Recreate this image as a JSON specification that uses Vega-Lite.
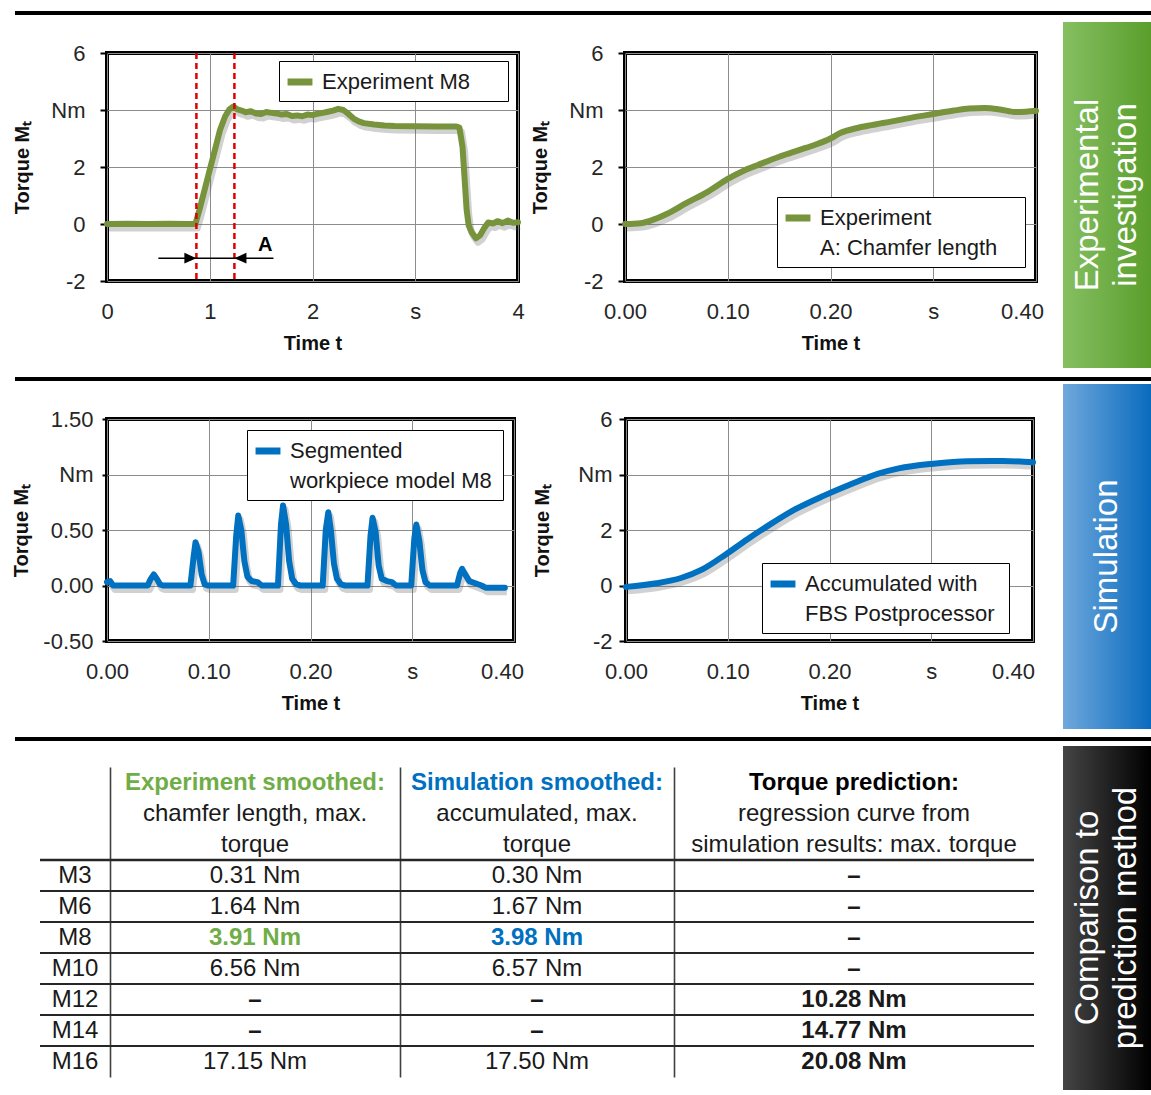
{
  "$schema": "https://vega.github.io/schema/vega-lite/v6.json",
  "background": "white",
  "padding": {"left": 9, "top": 11, "right": 0, "bottom": 5},
  "config": {
    "font": "Liberation Sans",
    "view": {"stroke": null},
    "axis": {"labelFont": "Liberation Sans", "labelFontSize": 22, "labelColor": "#262626", "titleFont": "Liberation Sans", "titleFontSize": 20, "titleFontWeight": "bold", "titleColor": "#111111", "gridColor": "#8c8c8c", "gridWidth": 1, "domain": false, "labelOverlap": false},
    "legend": {"labelFont": "Liberation Sans", "labelFontSize": 22, "labelColor": "#1a1a1a", "labelLimit": 400, "symbolType": "stroke", "symbolStrokeWidth": 7, "symbolSize": 620, "strokeColor": "#000000", "fillColor": "#ffffff", "padding": 5, "rowPadding": 0, "labelOffset": 6, "symbolOpacity": 1, "titleOrient": "right", "titleColor": "transparent", "titleFontSize": 2},
    "text": {"font": "Liberation Sans"}
  },
  "datasets": {
    "exp": [
      {"t": 0, "torque": 0, "series": "Experiment M8"}, {"t": 0.2, "torque": 0.01, "series": "Experiment M8"}, {"t": 0.4, "torque": 0, "series": "Experiment M8"}, {"t": 0.6, "torque": 0.01, "series": "Experiment M8"}, {"t": 0.8, "torque": 0, "series": "Experiment M8"}, {"t": 0.86, "torque": 0, "series": "Experiment M8"}, {"t": 0.9, "torque": 0.5, "series": "Experiment M8"}, {"t": 0.95, "torque": 1.2, "series": "Experiment M8"}, {"t": 1.0, "torque": 1.9, "series": "Experiment M8"}, {"t": 1.05, "torque": 2.6, "series": "Experiment M8"}, {"t": 1.1, "torque": 3.3, "series": "Experiment M8"}, {"t": 1.15, "torque": 3.78, "series": "Experiment M8"}, {"t": 1.19, "torque": 4.02, "series": "Experiment M8"}, {"t": 1.23, "torque": 4.12, "series": "Experiment M8"}, {"t": 1.27, "torque": 4.02, "series": "Experiment M8"}, {"t": 1.31, "torque": 3.98, "series": "Experiment M8"}, {"t": 1.35, "torque": 3.92, "series": "Experiment M8"}, {"t": 1.4, "torque": 3.96, "series": "Experiment M8"}, {"t": 1.45, "torque": 3.88, "series": "Experiment M8"}, {"t": 1.5, "torque": 3.86, "series": "Experiment M8"}, {"t": 1.55, "torque": 3.93, "series": "Experiment M8"}, {"t": 1.6, "torque": 3.9, "series": "Experiment M8"}, {"t": 1.65, "torque": 3.88, "series": "Experiment M8"}, {"t": 1.7, "torque": 3.84, "series": "Experiment M8"}, {"t": 1.75, "torque": 3.86, "series": "Experiment M8"}, {"t": 1.8, "torque": 3.79, "series": "Experiment M8"}, {"t": 1.85, "torque": 3.81, "series": "Experiment M8"}, {"t": 1.9, "torque": 3.78, "series": "Experiment M8"}, {"t": 1.95, "torque": 3.84, "series": "Experiment M8"}, {"t": 2.0, "torque": 3.82, "series": "Experiment M8"}, {"t": 2.05, "torque": 3.87, "series": "Experiment M8"}, {"t": 2.1, "torque": 3.9, "series": "Experiment M8"}, {"t": 2.15, "torque": 3.94, "series": "Experiment M8"}, {"t": 2.2, "torque": 3.98, "series": "Experiment M8"}, {"t": 2.25, "torque": 4.04, "series": "Experiment M8"}, {"t": 2.3, "torque": 4.0, "series": "Experiment M8"}, {"t": 2.35, "torque": 3.86, "series": "Experiment M8"}, {"t": 2.4, "torque": 3.7, "series": "Experiment M8"}, {"t": 2.45, "torque": 3.6, "series": "Experiment M8"}, {"t": 2.5, "torque": 3.54, "series": "Experiment M8"}, {"t": 2.6, "torque": 3.49, "series": "Experiment M8"}, {"t": 2.7, "torque": 3.46, "series": "Experiment M8"}, {"t": 2.8, "torque": 3.44, "series": "Experiment M8"}, {"t": 3.0, "torque": 3.43, "series": "Experiment M8"}, {"t": 3.2, "torque": 3.42, "series": "Experiment M8"}, {"t": 3.4, "torque": 3.42, "series": "Experiment M8"}, {"t": 3.43, "torque": 3.38, "series": "Experiment M8"}, {"t": 3.46, "torque": 2.7, "series": "Experiment M8"}, {"t": 3.48, "torque": 1.6, "series": "Experiment M8"}, {"t": 3.5, "torque": 0.5, "series": "Experiment M8"}, {"t": 3.52, "torque": -0.05, "series": "Experiment M8"}, {"t": 3.55, "torque": -0.3, "series": "Experiment M8"}, {"t": 3.59, "torque": -0.5, "series": "Experiment M8"}, {"t": 3.63, "torque": -0.4, "series": "Experiment M8"}, {"t": 3.67, "torque": -0.15, "series": "Experiment M8"}, {"t": 3.71, "torque": 0.05, "series": "Experiment M8"}, {"t": 3.76, "torque": 0.02, "series": "Experiment M8"}, {"t": 3.8, "torque": 0.1, "series": "Experiment M8"}, {"t": 3.85, "torque": 0.03, "series": "Experiment M8"}, {"t": 3.9, "torque": 0.12, "series": "Experiment M8"}, {"t": 3.95, "torque": 0.04, "series": "Experiment M8"}, {"t": 4.0, "torque": 0.06, "series": "Experiment M8"}
    ],
    "chamfer": [{"t": 0.87, "torque": -1.2, "dir": "right"}, {"t": 1.24, "torque": -1.2, "dir": "left"}],
    "span": [{"t": 0.5, "t2": 1.62, "torque": -1.2}],
    "alabel": [{"t": 1.54, "torque": -0.73, "label": "A"}],
    "expzoom": [
      {"t": 0, "torque": 0, "series": "Experiment"}, {"t": 0.015, "torque": 0.03, "series": "Experiment"}, {"t": 0.025, "torque": 0.12, "series": "Experiment"}, {"t": 0.04, "torque": 0.34, "series": "Experiment"}, {"t": 0.06, "torque": 0.74, "series": "Experiment"}, {"t": 0.08, "torque": 1.12, "series": "Experiment"}, {"t": 0.1, "torque": 1.58, "series": "Experiment"}, {"t": 0.115, "torque": 1.86, "series": "Experiment"}, {"t": 0.13, "torque": 2.08, "series": "Experiment"}, {"t": 0.15, "torque": 2.36, "series": "Experiment"}, {"t": 0.17, "torque": 2.6, "series": "Experiment"}, {"t": 0.185, "torque": 2.78, "series": "Experiment"}, {"t": 0.2, "torque": 3.0, "series": "Experiment"}, {"t": 0.21, "torque": 3.2, "series": "Experiment"}, {"t": 0.225, "torque": 3.36, "series": "Experiment"}, {"t": 0.24, "torque": 3.47, "series": "Experiment"}, {"t": 0.26, "torque": 3.6, "series": "Experiment"}, {"t": 0.28, "torque": 3.74, "series": "Experiment"}, {"t": 0.3, "torque": 3.86, "series": "Experiment"}, {"t": 0.32, "torque": 3.98, "series": "Experiment"}, {"t": 0.335, "torque": 4.05, "series": "Experiment"}, {"t": 0.35, "torque": 4.07, "series": "Experiment"}, {"t": 0.365, "torque": 4.02, "series": "Experiment"}, {"t": 0.38, "torque": 3.93, "series": "Experiment"}, {"t": 0.39, "torque": 3.94, "series": "Experiment"}, {"t": 0.4, "torque": 3.97, "series": "Experiment"}
    ],
    "seg": [
      {"t": 0.0, "torque": 0.03, "series": "Segmented"}, {"t": 0.003, "torque": 0.04, "series": "Segmented"}, {"t": 0.006, "torque": 0.0, "series": "Segmented"}, {"t": 0.04, "torque": 0.0, "series": "Segmented"}, {"t": 0.043, "torque": 0.06, "series": "Segmented"}, {"t": 0.046, "torque": 0.1, "series": "Segmented"}, {"t": 0.049, "torque": 0.06, "series": "Segmented"}, {"t": 0.052, "torque": 0.01, "series": "Segmented"}, {"t": 0.055, "torque": 0.0, "series": "Segmented"},
      {"t": 0.082, "torque": 0.0, "series": "Segmented"}, {"t": 0.085, "torque": 0.25, "series": "Segmented"}, {"t": 0.087, "torque": 0.39, "series": "Segmented"}, {"t": 0.09, "torque": 0.3, "series": "Segmented"}, {"t": 0.093, "torque": 0.1, "series": "Segmented"}, {"t": 0.096, "torque": 0.01, "series": "Segmented"}, {"t": 0.099, "torque": 0.0, "series": "Segmented"},
      {"t": 0.124, "torque": 0.0, "series": "Segmented"}, {"t": 0.127, "torque": 0.45, "series": "Segmented"}, {"t": 0.129, "torque": 0.63, "series": "Segmented"}, {"t": 0.132, "torque": 0.5, "series": "Segmented"}, {"t": 0.135, "torque": 0.22, "series": "Segmented"}, {"t": 0.138, "torque": 0.08, "series": "Segmented"}, {"t": 0.142, "torque": 0.04, "series": "Segmented"}, {"t": 0.148, "torque": 0.03, "series": "Segmented"}, {"t": 0.152, "torque": 0.0, "series": "Segmented"},
      {"t": 0.168, "torque": 0.0, "series": "Segmented"}, {"t": 0.171, "torque": 0.55, "series": "Segmented"}, {"t": 0.173, "torque": 0.72, "series": "Segmented"}, {"t": 0.176, "torque": 0.55, "series": "Segmented"}, {"t": 0.179, "torque": 0.22, "series": "Segmented"}, {"t": 0.182, "torque": 0.06, "series": "Segmented"}, {"t": 0.186, "torque": 0.01, "series": "Segmented"}, {"t": 0.19, "torque": 0.0, "series": "Segmented"},
      {"t": 0.212, "torque": 0.0, "series": "Segmented"}, {"t": 0.215, "torque": 0.5, "series": "Segmented"}, {"t": 0.2175, "torque": 0.66, "series": "Segmented"}, {"t": 0.22, "torque": 0.5, "series": "Segmented"}, {"t": 0.223, "torque": 0.2, "series": "Segmented"}, {"t": 0.226, "torque": 0.06, "series": "Segmented"}, {"t": 0.23, "torque": 0.01, "series": "Segmented"}, {"t": 0.234, "torque": 0.0, "series": "Segmented"},
      {"t": 0.256, "torque": 0.0, "series": "Segmented"}, {"t": 0.259, "torque": 0.45, "series": "Segmented"}, {"t": 0.261, "torque": 0.61, "series": "Segmented"}, {"t": 0.264, "torque": 0.48, "series": "Segmented"}, {"t": 0.267, "torque": 0.18, "series": "Segmented"}, {"t": 0.27, "torque": 0.06, "series": "Segmented"}, {"t": 0.275, "torque": 0.04, "series": "Segmented"}, {"t": 0.28, "torque": 0.03, "series": "Segmented"}, {"t": 0.284, "torque": 0.0, "series": "Segmented"},
      {"t": 0.299, "torque": 0.0, "series": "Segmented"}, {"t": 0.302, "torque": 0.42, "series": "Segmented"}, {"t": 0.304, "torque": 0.55, "series": "Segmented"}, {"t": 0.307, "torque": 0.4, "series": "Segmented"}, {"t": 0.31, "torque": 0.14, "series": "Segmented"}, {"t": 0.313, "torque": 0.03, "series": "Segmented"}, {"t": 0.317, "torque": 0.0, "series": "Segmented"},
      {"t": 0.344, "torque": 0.0, "series": "Segmented"}, {"t": 0.347, "torque": 0.11, "series": "Segmented"}, {"t": 0.349, "torque": 0.15, "series": "Segmented"}, {"t": 0.352, "torque": 0.1, "series": "Segmented"}, {"t": 0.356, "torque": 0.04, "series": "Segmented"}, {"t": 0.362, "torque": 0.02, "series": "Segmented"}, {"t": 0.368, "torque": 0.0, "series": "Segmented"}, {"t": 0.372, "torque": -0.02, "series": "Segmented"}, {"t": 0.391, "torque": -0.02, "series": "Segmented"}
    ],
    "acc": [
      {"t": 0, "torque": -0.05, "series": "Accumulated with"}, {"t": 0.03, "torque": 0.08, "series": "Accumulated with"}, {"t": 0.054, "torque": 0.27, "series": "Accumulated with"}, {"t": 0.075, "torque": 0.58, "series": "Accumulated with"}, {"t": 0.098, "torque": 1.12, "series": "Accumulated with"}, {"t": 0.119, "torque": 1.66, "series": "Accumulated with"}, {"t": 0.139, "torque": 2.14, "series": "Accumulated with"}, {"t": 0.166, "torque": 2.74, "series": "Accumulated with"}, {"t": 0.194, "torque": 3.23, "series": "Accumulated with"}, {"t": 0.221, "torque": 3.65, "series": "Accumulated with"}, {"t": 0.248, "torque": 4.03, "series": "Accumulated with"}, {"t": 0.268, "torque": 4.22, "series": "Accumulated with"}, {"t": 0.302, "torque": 4.39, "series": "Accumulated with"}, {"t": 0.336, "torque": 4.48, "series": "Accumulated with"}, {"t": 0.37, "torque": 4.49, "series": "Accumulated with"}, {"t": 0.4, "torque": 4.44, "series": "Accumulated with"}
    ],
    "table": [
      {"col": "size", "row": "M3", "text": "M3", "kind": "size", "part": "body"},
      {"col": "size", "row": "M6", "text": "M6", "kind": "size", "part": "body"},
      {"col": "size", "row": "M8", "text": "M8", "kind": "size", "part": "body"},
      {"col": "size", "row": "M10", "text": "M10", "kind": "size", "part": "body"},
      {"col": "size", "row": "M12", "text": "M12", "kind": "size", "part": "body"},
      {"col": "size", "row": "M14", "text": "M14", "kind": "size", "part": "body"},
      {"col": "size", "row": "M16", "text": "M16", "kind": "size", "part": "body"},
      {"col": "exp", "row": "h1", "text": "Experiment smoothed:", "kind": "title", "part": "head"},
      {"col": "exp", "row": "h2", "text": "chamfer length, max.", "kind": "note", "part": "head"},
      {"col": "exp", "row": "h3", "text": "torque", "kind": "note", "part": "head"},
      {"col": "exp", "row": "M3", "text": "0.31 Nm", "kind": "value", "part": "body"},
      {"col": "exp", "row": "M6", "text": "1.64 Nm", "kind": "value", "part": "body"},
      {"col": "exp", "row": "M8", "text": "3.91 Nm", "kind": "highlight", "part": "body"},
      {"col": "exp", "row": "M10", "text": "6.56 Nm", "kind": "value", "part": "body"},
      {"col": "exp", "row": "M12", "text": "–", "kind": "none", "part": "body"},
      {"col": "exp", "row": "M14", "text": "–", "kind": "none", "part": "body"},
      {"col": "exp", "row": "M16", "text": "17.15 Nm", "kind": "value", "part": "body"},
      {"col": "sim", "row": "h1", "text": "Simulation smoothed:", "kind": "title", "part": "head"},
      {"col": "sim", "row": "h2", "text": "accumulated, max.", "kind": "note", "part": "head"},
      {"col": "sim", "row": "h3", "text": "torque", "kind": "note", "part": "head"},
      {"col": "sim", "row": "M3", "text": "0.30 Nm", "kind": "value", "part": "body"},
      {"col": "sim", "row": "M6", "text": "1.67 Nm", "kind": "value", "part": "body"},
      {"col": "sim", "row": "M8", "text": "3.98 Nm", "kind": "highlight", "part": "body"},
      {"col": "sim", "row": "M10", "text": "6.57 Nm", "kind": "value", "part": "body"},
      {"col": "sim", "row": "M12", "text": "–", "kind": "none", "part": "body"},
      {"col": "sim", "row": "M14", "text": "–", "kind": "none", "part": "body"},
      {"col": "sim", "row": "M16", "text": "17.50 Nm", "kind": "value", "part": "body"},
      {"col": "pred", "row": "h1", "text": "Torque prediction:", "kind": "title", "part": "head"},
      {"col": "pred", "row": "h2", "text": "regression curve from", "kind": "note", "part": "head"},
      {"col": "pred", "row": "h3", "text": "simulation results: max. torque", "kind": "note", "part": "head"},
      {"col": "pred", "row": "M3", "text": "–", "kind": "none", "part": "body"},
      {"col": "pred", "row": "M6", "text": "–", "kind": "none", "part": "body"},
      {"col": "pred", "row": "M8", "text": "–", "kind": "none", "part": "body"},
      {"col": "pred", "row": "M10", "text": "–", "kind": "none", "part": "body"},
      {"col": "pred", "row": "M12", "text": "10.28 Nm", "kind": "predicted", "part": "body"},
      {"col": "pred", "row": "M14", "text": "14.77 Nm", "kind": "predicted", "part": "body"},
      {"col": "pred", "row": "M16", "text": "20.08 Nm", "kind": "predicted", "part": "body"}
    ]
  },
  "spacing": 0,
  "bounds": "flush",
  "resolve": {"scale": {"color": "independent", "shape": "independent"}, "legend": {"color": "independent", "shape": "independent"}},
  "hconcat": [
    {
      "spacing": 0,
      "bounds": "flush",
      "resolve": {"scale": {"color": "independent", "shape": "independent"}, "legend": {"color": "independent", "shape": "independent"}},
      "vconcat": [
        {"width": 1048, "height": 4, "data": {"values": []}, "mark": "point", "view": {"fill": "#000000", "stroke": null}},
        {"width": 1, "height": 38, "data": {"values": []}, "mark": "point"},
        {
          "spacing": 0,
          "bounds": "flush",
          "resolve": {"scale": {"color": "independent", "shape": "independent"}, "legend": {"color": "independent", "shape": "independent"}},
          "hconcat": [
            {"width": 92, "height": 1, "data": {"values": []}, "mark": "point"},
            {
              "width": 411, "height": 228,
              "view": {"stroke": "#000000", "strokeWidth": 4},
              "layer": [
                {"data": {"name": "exp"}, "mark": {"type": "line", "color": "#595959", "opacity": 0.28, "strokeWidth": 7, "xOffset": 2, "yOffset": 4, "strokeJoin": "round"},
                 "encoding": {
                   "x": {"field": "t", "type": "quantitative", "scale": {"domain": [0, 4], "nice": false, "zero": false}, "axis": {"values": [0, 1, 2, 3, 4], "format": "d", "labelExpr": "datum.value == 3 ? 's' : datum.label", "title": "Time t", "grid": true, "tickSize": 0, "labelPadding": 20, "titlePadding": 11, "labelFlush": false}},
                   "y": {"field": "torque", "type": "quantitative", "scale": {"domain": [-2, 6], "nice": false, "zero": false}, "axis": {"values": [-2, 0, 2, 4, 6], "format": "d", "labelExpr": "datum.value == 4 ? 'Nm' : replace(datum.label, '\u2212', '-')", "title": "Torque M\u209c", "grid": true, "tickSize": 7, "tickColor": "#000000", "tickWidth": 2, "labelPadding": 15, "titlePadding": 18}}
                 }},
                {"data": {"name": "exp"}, "mark": {"type": "line", "strokeWidth": 6, "strokeJoin": "round", "strokeCap": "round"},
                 "encoding": {
                   "x": {"field": "t", "type": "quantitative"},
                   "y": {"field": "torque", "type": "quantitative"},
                   "color": {"field": "series", "type": "nominal", "scale": {"domain": ["Experiment M8"], "range": ["#77933C"]}, "legend": {"orient": "none", "legendX": 172, "legendY": 8, "title": ".", "titlePadding": 32}}
                 }},
                {"data": {"name": "chamfer"}, "mark": {"type": "rule", "color": "#E00000", "strokeDash": [6, 4], "strokeWidth": 2.5}, "encoding": {"x": {"field": "t", "type": "quantitative"}}},
                {"data": {"name": "span"}, "mark": {"type": "rule", "color": "#000000", "strokeWidth": 1.5}, "encoding": {"x": {"field": "t", "type": "quantitative"}, "x2": {"field": "t2"}, "y": {"field": "torque", "type": "quantitative"}}},
                {"data": {"name": "chamfer"}, "mark": {"type": "point", "filled": true, "color": "#000000", "opacity": 1, "size": 144, "strokeWidth": 0},
                 "encoding": {"x": {"field": "t", "type": "quantitative"}, "y": {"field": "torque", "type": "quantitative"}, "shape": {"field": "dir", "type": "nominal", "scale": {"domain": ["right", "left"], "range": ["M -2 -0.9 L 0 0 L -2 0.9 Z", "M 2 -0.9 L 0 0 L 2 0.9 Z"]}, "legend": null}}},
                {"data": {"name": "alabel"}, "mark": {"type": "text", "fontWeight": "bold", "fontSize": 20, "color": "#000000"}, "encoding": {"x": {"field": "t", "type": "quantitative"}, "y": {"field": "torque", "type": "quantitative"}, "text": {"field": "label"}}}
              ]
            },
            {"width": 107, "height": 1, "data": {"values": []}, "mark": "point"},
            {
              "width": 411, "height": 228,
              "view": {"stroke": "#000000", "strokeWidth": 4},
              "data": {"name": "expzoom"},
              "layer": [
                {"mark": {"type": "line", "color": "#595959", "opacity": 0.28, "strokeWidth": 7, "xOffset": 2, "yOffset": 4, "interpolate": "monotone"},
                 "encoding": {
                   "x": {"field": "t", "type": "quantitative", "scale": {"domain": [0, 0.4], "nice": false, "zero": false}, "axis": {"values": [0, 0.1, 0.2, 0.3, 0.4], "format": ".2f", "labelExpr": "abs(datum.value - 0.3) < 0.0001 ? 's' : datum.label", "title": "Time t", "grid": true, "tickSize": 0, "labelPadding": 20, "titlePadding": 11, "labelFlush": false, "labelOffset": {"condition": {"test": "datum.value > 0.39", "value": -14}, "value": 0}}},
                   "y": {"field": "torque", "type": "quantitative", "scale": {"domain": [-2, 6], "nice": false, "zero": false}, "axis": {"values": [-2, 0, 2, 4, 6], "format": "d", "labelExpr": "datum.value == 4 ? 'Nm' : replace(datum.label, '\u2212', '-')", "title": "Torque M\u209c", "grid": true, "tickSize": 7, "tickColor": "#000000", "tickWidth": 2, "labelPadding": 15, "titlePadding": 18}}
                 }},
                {"mark": {"type": "line", "strokeWidth": 6, "strokeJoin": "round", "strokeCap": "round", "interpolate": "monotone"},
                 "encoding": {
                   "x": {"field": "t", "type": "quantitative"},
                   "y": {"field": "torque", "type": "quantitative"},
                   "color": {"field": "series", "type": "nominal", "scale": {"domain": ["Experiment", "A: Chamfer length"], "range": ["#77933C", "transparent"]}, "legend": {"orient": "none", "legendX": 152, "legendY": 144, "title": ".", "titlePadding": 22}}
                 }}
              ]
            }
          ]
        },
        {"width": 1, "height": 324, "data": {"values": []}, "mark": "point"},
        {"width": 1048, "height": 4, "data": {"values": []}, "mark": "point", "view": {"fill": "#000000", "stroke": null}},
        {"width": 1, "height": 38, "data": {"values": []}, "mark": "point"},
        {
          "spacing": 0,
          "bounds": "flush",
          "resolve": {"scale": {"color": "independent", "shape": "independent"}, "legend": {"color": "independent", "shape": "independent"}},
          "hconcat": [
            {"width": 92, "height": 1, "data": {"values": []}, "mark": "point"},
            {
              "width": 407, "height": 222,
              "view": {"stroke": "#000000", "strokeWidth": 4},
              "data": {"name": "seg"},
              "layer": [
                {"mark": {"type": "line", "color": "#595959", "opacity": 0.28, "strokeWidth": 7, "xOffset": 2, "yOffset": 4, "strokeJoin": "round"},
                 "encoding": {
                   "x": {"field": "t", "type": "quantitative", "scale": {"domain": [0, 0.4], "nice": false, "zero": false}, "axis": {"values": [0, 0.1, 0.2, 0.3, 0.4], "format": ".2f", "labelExpr": "abs(datum.value - 0.3) < 0.0001 ? 's' : datum.label", "title": "Time t", "grid": true, "tickSize": 0, "labelPadding": 20, "titlePadding": 11, "labelFlush": false, "labelOffset": {"condition": {"test": "datum.value > 0.39", "value": -12}, "value": 0}}},
                   "y": {"field": "torque", "type": "quantitative", "scale": {"domain": [-0.5, 1.5], "nice": false, "zero": false}, "axis": {"values": [-0.5, 0, 0.5, 1, 1.5], "format": ".2f", "labelExpr": "datum.value == 1 ? 'Nm' : replace(datum.label, '\u2212', '-')", "title": "Torque M\u209c", "grid": true, "tickSize": 5, "tickColor": "#000000", "tickWidth": 2, "labelPadding": 9, "titlePadding": 11}}
                 }},
                {"mark": {"type": "line", "strokeWidth": 6, "strokeJoin": "round", "strokeCap": "round"},
                 "encoding": {
                   "x": {"field": "t", "type": "quantitative"},
                   "y": {"field": "torque", "type": "quantitative"},
                   "color": {"field": "series", "type": "nominal", "scale": {"domain": ["Segmented", "workpiece model M8"], "range": ["#0070C0", "transparent"]}, "legend": {"orient": "none", "legendX": 140, "legendY": 11, "title": ".", "titlePadding": 5}}
                 }}
              ]
            },
            {"width": 112, "height": 1, "data": {"values": []}, "mark": "point"},
            {
              "width": 407, "height": 222,
              "view": {"stroke": "#000000", "strokeWidth": 4},
              "data": {"name": "acc"},
              "layer": [
                {"mark": {"type": "line", "color": "#595959", "opacity": 0.28, "strokeWidth": 7, "xOffset": 2, "yOffset": 4, "interpolate": "monotone"},
                 "encoding": {
                   "x": {"field": "t", "type": "quantitative", "scale": {"domain": [0, 0.4], "nice": false, "zero": false}, "axis": {"values": [0, 0.1, 0.2, 0.3, 0.4], "format": ".2f", "labelExpr": "abs(datum.value - 0.3) < 0.0001 ? 's' : datum.label", "title": "Time t", "grid": true, "tickSize": 0, "labelPadding": 20, "titlePadding": 11, "labelFlush": false, "labelOffset": {"condition": {"test": "datum.value > 0.39", "value": -20}, "value": 0}}},
                   "y": {"field": "torque", "type": "quantitative", "scale": {"domain": [-2, 6], "nice": false, "zero": false}, "axis": {"values": [-2, 0, 2, 4, 6], "format": "d", "labelExpr": "datum.value == 4 ? 'Nm' : replace(datum.label, '\u2212', '-')", "title": "Torque M\u209c", "grid": true, "tickSize": 7, "tickColor": "#000000", "tickWidth": 2, "labelPadding": 7, "titlePadding": 25}}
                 }},
                {"mark": {"type": "line", "strokeWidth": 6, "strokeJoin": "round", "strokeCap": "round", "interpolate": "monotone"},
                 "encoding": {
                   "x": {"field": "t", "type": "quantitative"},
                   "y": {"field": "torque", "type": "quantitative"},
                   "color": {"field": "series", "type": "nominal", "scale": {"domain": ["Accumulated with", "FBS Postprocessor"], "range": ["#0070C0", "transparent"]}, "legend": {"orient": "none", "legendX": 136, "legendY": 144, "title": ".", "titlePadding": 8}}
                 }}
              ]
            }
          ]
        },
        {"width": 1, "height": 318, "data": {"values": []}, "mark": "point"},
        {"width": 1048, "height": 4, "data": {"values": []}, "mark": "point", "view": {"fill": "#000000", "stroke": null}},
        {"width": 1, "height": 26, "data": {"values": []}, "mark": "point"},
        {
          "spacing": 0,
          "bounds": "flush",
          "resolve": {"scale": {"color": "independent", "shape": "independent"}, "legend": {"color": "independent", "shape": "independent"}},
          "hconcat": [
            {"width": 25, "height": 1, "data": {"values": []}, "mark": "point"},
            {
              "width": 70, "height": 310,
              "data": {"name": "table"},
              "transform": [{"filter": "datum.col == 'size'"}],
              "layer": [
                {"transform": [{"filter": "datum.part == 'body'"}], "mark": {"type": "rule", "color": "#262626"},
                 "encoding": {"y": {"field": "row", "type": "ordinal", "bandPosition": 0, "scale": {"type": "band", "domain": ["h1", "h2", "h3", "M3", "M6", "M8", "M10", "M12", "M14", "M16"], "paddingInner": 0, "paddingOuter": 0}, "axis": null}, "strokeWidth": {"condition": {"test": "datum.row == 'M3'", "value": 2.6}, "value": 2}}},
                {"mark": {"type": "text", "fontSize": 24, "color": "#1a1a1a"}, "encoding": {"y": {"field": "row", "type": "ordinal"}, "text": {"field": "text"}}}
              ]
            },
            {
              "width": 290, "height": 310,
              "data": {"name": "table"},
              "transform": [{"filter": "datum.col == 'exp'"}],
              "layer": [
                {"transform": [{"filter": "datum.part == 'body'"}], "mark": {"type": "rule", "color": "#262626"},
                 "encoding": {"y": {"field": "row", "type": "ordinal", "bandPosition": 0, "scale": {"type": "band", "domain": ["h1", "h2", "h3", "M3", "M6", "M8", "M10", "M12", "M14", "M16"], "paddingInner": 0, "paddingOuter": 0}, "axis": {"domain": true, "domainColor": "#404040", "domainWidth": 1.6, "labels": false, "ticks": false, "grid": false, "title": null}}, "strokeWidth": {"condition": {"test": "datum.row == 'M3'", "value": 2.6}, "value": 2}}},
                {"transform": [{"filter": "indexof(['title', 'highlight', 'predicted', 'none'], datum.kind) < 0"}], "mark": {"type": "text", "fontSize": 24, "color": "#1a1a1a"}, "encoding": {"y": {"field": "row", "type": "ordinal"}, "text": {"field": "text"}}},
                {"transform": [{"filter": "indexof(['title', 'highlight', 'predicted', 'none'], datum.kind) >= 0"}], "mark": {"type": "text", "fontSize": 24, "fontWeight": "bold"},
                 "encoding": {"y": {"field": "row", "type": "ordinal"}, "text": {"field": "text"}, "color": {"condition": {"test": "datum.kind == 'title' || datum.kind == 'highlight'", "field": "col", "type": "nominal", "scale": {"domain": ["exp", "sim", "pred"], "range": ["#70AD47", "#0070C0", "#000000"]}, "legend": null}, "value": "#1a1a1a"}}}
              ]
            },
            {
              "width": 274, "height": 310,
              "data": {"name": "table"},
              "transform": [{"filter": "datum.col == 'sim'"}],
              "layer": [
                {"transform": [{"filter": "datum.part == 'body'"}], "mark": {"type": "rule", "color": "#262626"},
                 "encoding": {"y": {"field": "row", "type": "ordinal", "bandPosition": 0, "scale": {"type": "band", "domain": ["h1", "h2", "h3", "M3", "M6", "M8", "M10", "M12", "M14", "M16"], "paddingInner": 0, "paddingOuter": 0}, "axis": {"domain": true, "domainColor": "#404040", "domainWidth": 1.6, "labels": false, "ticks": false, "grid": false, "title": null}}, "strokeWidth": {"condition": {"test": "datum.row == 'M3'", "value": 2.6}, "value": 2}}},
                {"transform": [{"filter": "indexof(['title', 'highlight', 'predicted', 'none'], datum.kind) < 0"}], "mark": {"type": "text", "fontSize": 24, "color": "#1a1a1a"}, "encoding": {"y": {"field": "row", "type": "ordinal"}, "text": {"field": "text"}}},
                {"transform": [{"filter": "indexof(['title', 'highlight', 'predicted', 'none'], datum.kind) >= 0"}], "mark": {"type": "text", "fontSize": 24, "fontWeight": "bold"},
                 "encoding": {"y": {"field": "row", "type": "ordinal"}, "text": {"field": "text"}, "color": {"condition": {"test": "datum.kind == 'title' || datum.kind == 'highlight'", "field": "col", "type": "nominal", "scale": {"domain": ["exp", "sim", "pred"], "range": ["#70AD47", "#0070C0", "#000000"]}, "legend": null}, "value": "#1a1a1a"}}}
              ]
            },
            {
              "width": 360, "height": 310,
              "data": {"name": "table"},
              "transform": [{"filter": "datum.col == 'pred'"}],
              "layer": [
                {"transform": [{"filter": "datum.part == 'body'"}], "mark": {"type": "rule", "color": "#262626"},
                 "encoding": {"y": {"field": "row", "type": "ordinal", "bandPosition": 0, "scale": {"type": "band", "domain": ["h1", "h2", "h3", "M3", "M6", "M8", "M10", "M12", "M14", "M16"], "paddingInner": 0, "paddingOuter": 0}, "axis": {"domain": true, "domainColor": "#404040", "domainWidth": 1.6, "labels": false, "ticks": false, "grid": false, "title": null}}, "strokeWidth": {"condition": {"test": "datum.row == 'M3'", "value": 2.6}, "value": 2}}},
                {"transform": [{"filter": "indexof(['title', 'highlight', 'predicted', 'none'], datum.kind) < 0"}], "mark": {"type": "text", "fontSize": 24, "color": "#1a1a1a"}, "encoding": {"y": {"field": "row", "type": "ordinal"}, "text": {"field": "text"}}},
                {"transform": [{"filter": "indexof(['title', 'highlight', 'predicted', 'none'], datum.kind) >= 0"}], "mark": {"type": "text", "fontSize": 24, "fontWeight": "bold"},
                 "encoding": {"y": {"field": "row", "type": "ordinal"}, "text": {"field": "text"}, "color": {"condition": {"test": "datum.kind == 'title' || datum.kind == 'highlight'", "field": "col", "type": "nominal", "scale": {"domain": ["exp", "sim", "pred"], "range": ["#70AD47", "#0070C0", "#000000"]}, "legend": null}, "value": "#1a1a1a"}}}
              ]
            }
          ]
        },
        {"width": 1, "height": 310, "data": {"values": []}, "mark": "point"}
      ]
    },
    {"width": 1048, "height": 1, "data": {"values": []}, "mark": "point"},
    {
      "spacing": 0,
      "bounds": "flush",
      "vconcat": [
        {"width": 88, "height": 4, "data": {"values": []}, "mark": "point", "view": {"fill": "#000000", "stroke": null}},
        {"width": 1, "height": 7, "data": {"values": []}, "mark": "point"},
        {
          "width": 88, "height": 346,
          "data": {"values": [{"label": "Experimental\ninvestigation"}]},
          "layer": [
            {"mark": {"type": "rect", "fill": {"gradient": "linear", "x1": 0, "y1": 0, "x2": 1, "y2": 0, "stops": [{"offset": 0, "color": "#86BF62"}, {"offset": 1, "color": "#5A9E2C"}]}}, "encoding": {}},
            {"mark": {"type": "text", "angle": 270, "color": "#ffffff", "fontSize": 33, "lineBreak": "\n", "lineHeight": 38, "dy": -19}, "encoding": {"text": {"field": "label"}}}
          ]
        },
        {"width": 1, "height": 9, "data": {"values": []}, "mark": "point"},
        {"width": 88, "height": 4, "data": {"values": []}, "mark": "point", "view": {"fill": "#000000", "stroke": null}},
        {"width": 1, "height": 3, "data": {"values": []}, "mark": "point"},
        {
          "width": 88, "height": 345,
          "data": {"values": [{"label": "Simulation"}]},
          "layer": [
            {"mark": {"type": "rect", "fill": {"gradient": "linear", "x1": 0, "y1": 0, "x2": 1, "y2": 0, "stops": [{"offset": 0, "color": "#6FA8DC"}, {"offset": 1, "color": "#0A6BBE"}]}}, "encoding": {}},
            {"mark": {"type": "text", "angle": 270, "color": "#ffffff", "fontSize": 33, "lineBreak": "\n", "lineHeight": 38}, "encoding": {"text": {"field": "label"}}}
          ]
        },
        {"width": 1, "height": 8, "data": {"values": []}, "mark": "point"},
        {"width": 88, "height": 4, "data": {"values": []}, "mark": "point", "view": {"fill": "#000000", "stroke": null}},
        {"width": 1, "height": 5, "data": {"values": []}, "mark": "point"},
        {
          "width": 88, "height": 344,
          "data": {"values": [{"label": "Comparison to\nprediction method"}]},
          "layer": [
            {"mark": {"type": "rect", "fill": {"gradient": "linear", "x1": 0, "y1": 0, "x2": 1, "y2": 0, "stops": [{"offset": 0, "color": "#454545"}, {"offset": 1, "color": "#000000"}]}}, "encoding": {}},
            {"mark": {"type": "text", "angle": 270, "color": "#ffffff", "fontSize": 33, "lineBreak": "\n", "lineHeight": 38, "dy": -19}, "encoding": {"text": {"field": "label"}}}
          ]
        }
      ]
    }
  ]
}
